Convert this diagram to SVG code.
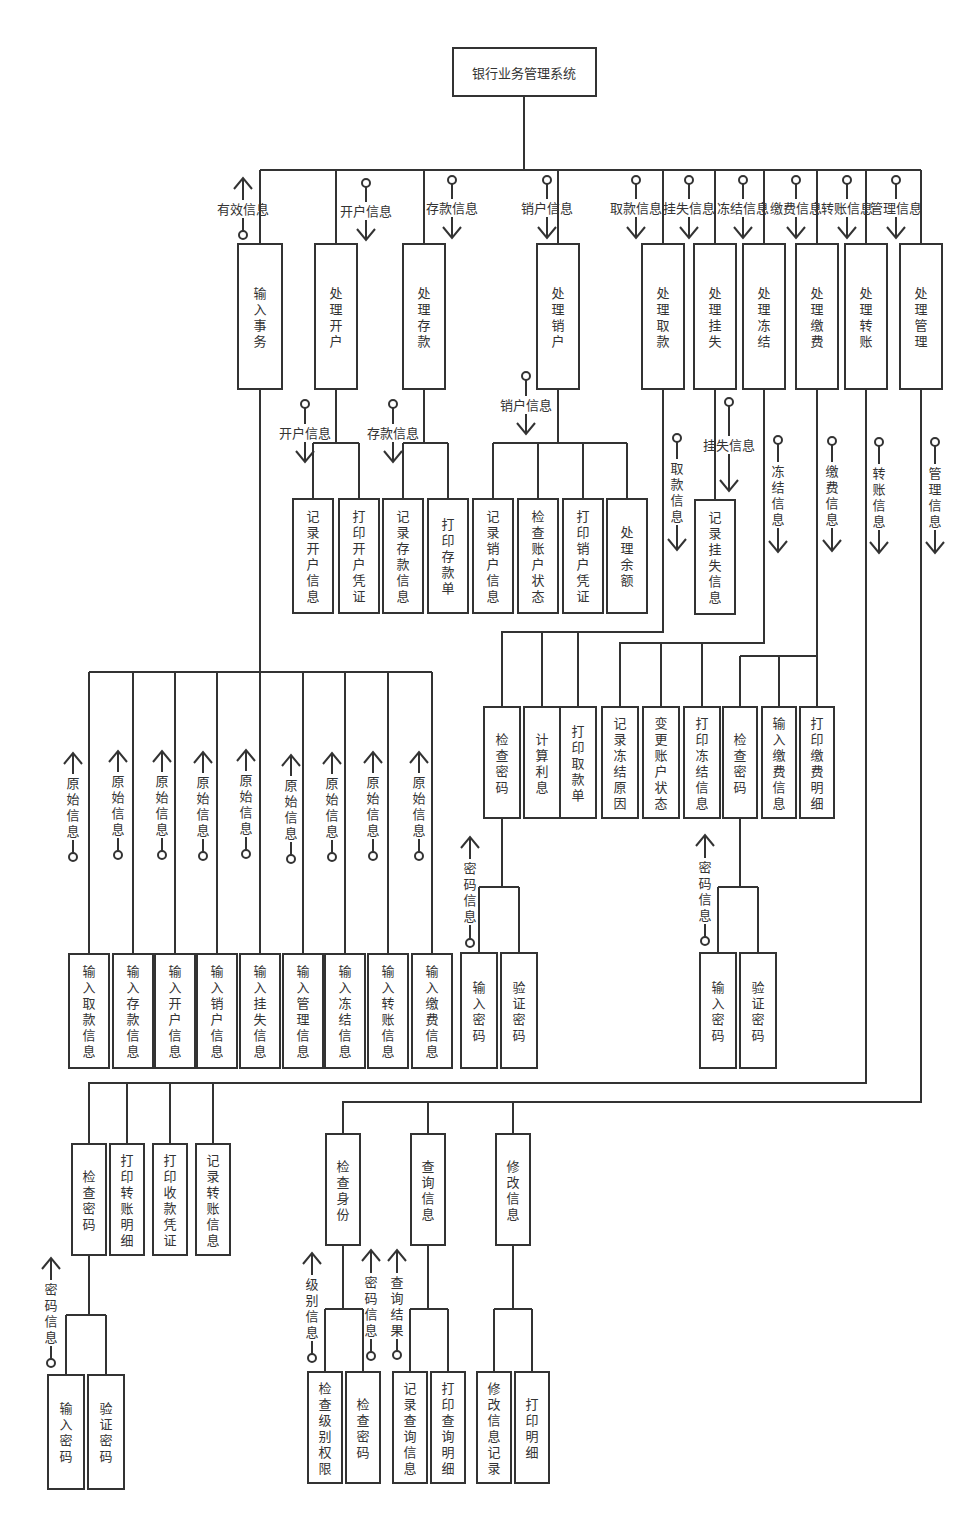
<svg xmlns="http://www.w3.org/2000/svg" width="975" height="1521" viewBox="0 0 975 1521">
<style>
.ln{fill:none;stroke:#333;stroke-width:2}
.bx{fill:#fff;stroke:#333;stroke-width:2}
text{font-family:"Noto Sans CJK SC","Noto Sans",sans-serif;font-size:13px;fill:#333;text-anchor:middle}
.a{marker-end:url(#arr)}
.d{marker-start:url(#dot)}
</style>
<defs>
<marker id="arr" markerUnits="userSpaceOnUse" markerWidth="30" markerHeight="30" viewBox="-15 -15 30 30" refX="0" refY="0" orient="auto" overflow="visible"><path d="M-11,-9 L0,0 L-11,9" fill="none" stroke="#333" stroke-width="2"/></marker>
<marker id="dot" markerUnits="userSpaceOnUse" markerWidth="12" markerHeight="12" viewBox="-6 -6 12 12" refX="0" refY="0" overflow="visible"><circle r="4" fill="#fff" stroke="#333" stroke-width="2"/></marker>
</defs>
<rect width="975" height="1521" fill="#fff"/>
<g id="connectors" class="ln">
<path d="M524,96V170M260,170H921M260,170V244M336,170V244M424,170V244M558,170V244M663,170V244M715,170V244M764,170V244M817,170V244M866,170V244M921,170V244"/>
<path d="M260,389V954M89,672H432M89,672V954M133,672V954M175,672V954M217,672V954M303,672V954M345,672V954M388,672V954M432,672V954"/>
<path d="M336,389V443M313,443H359M313,443V499M359,443V499"/>
<path d="M424,389V443M403,443H448M403,443V499M448,443V499"/>
<path d="M558,389V443M493,443H627M493,443V499M538,443V499M583,443V499M627,443V499"/>
<path d="M715,389V500"/>
<path d="M663,389V632H502V707M542,632V707M578,632V707"/>
<path d="M764,389V643H620V707M661,643V707M702,643V707"/>
<path d="M817,389V707M740,656H817M740,656V707M779,656V707"/>
<path d="M502,818V887M479,887H519M479,887V953M519,887V953"/>
<path d="M740,818V887M718,887H758M718,887V953M758,887V953"/>
<path d="M866,389V1083H89V1144M127,1083V1144M170,1083V1144M213,1083V1144"/>
<path d="M921,389V1102H343V1134M428,1102V1134M513,1102V1134"/>
<path d="M89,1255V1315M66,1315H106M66,1315V1375M106,1315V1375"/>
<path d="M343,1245V1309M325,1309H363M325,1309V1372M363,1309V1372"/>
<path d="M428,1245V1309M410,1309H448M410,1309V1372M448,1309V1372"/>
<path d="M513,1245V1309M494,1309H532M494,1309V1372M532,1309V1372"/>
</g>
<g id="labels">
<g><line class="ln a" x1="243" y1="200" x2="243" y2="178"/><line class="ln d" x1="243" y1="235" x2="243" y2="218"/><text x="243" y="214">有效信息</text></g>
<g><line class="ln d" x1="366" y1="183" x2="366" y2="202"/><line class="ln a" x1="366" y1="220" x2="366" y2="240"/><text x="366" y="216">开户信息</text></g>
<g><line class="ln d" x1="452" y1="180" x2="452" y2="199"/><line class="ln a" x1="452" y1="217" x2="452" y2="238"/><text x="452" y="213">存款信息</text></g>
<g><line class="ln d" x1="547" y1="180" x2="547" y2="199"/><line class="ln a" x1="547" y1="217" x2="547" y2="238"/><text x="547" y="213">销户信息</text></g>
<g><line class="ln d" x1="636" y1="180" x2="636" y2="199"/><line class="ln a" x1="636" y1="217" x2="636" y2="238"/><text x="636" y="213">取款信息</text></g>
<g><line class="ln d" x1="689" y1="180" x2="689" y2="199"/><line class="ln a" x1="689" y1="217" x2="689" y2="238"/><text x="689" y="213">挂失信息</text></g>
<g><line class="ln d" x1="743" y1="180" x2="743" y2="199"/><line class="ln a" x1="743" y1="217" x2="743" y2="238"/><text x="743" y="213">冻结信息</text></g>
<g><line class="ln d" x1="796" y1="180" x2="796" y2="199"/><line class="ln a" x1="796" y1="217" x2="796" y2="238"/><text x="796" y="213">缴费信息</text></g>
<g><line class="ln d" x1="847" y1="180" x2="847" y2="199"/><line class="ln a" x1="847" y1="217" x2="847" y2="238"/><text x="847" y="213">转账信息</text></g>
<g><line class="ln d" x1="896" y1="180" x2="896" y2="199"/><line class="ln a" x1="896" y1="217" x2="896" y2="238"/><text x="896" y="213">管理信息</text></g>
<g><line class="ln d" x1="305" y1="404" x2="305" y2="424"/><line class="ln a" x1="305" y1="442" x2="305" y2="462"/><text x="305" y="438">开户信息</text></g>
<g><line class="ln d" x1="393" y1="404" x2="393" y2="424"/><line class="ln a" x1="393" y1="442" x2="393" y2="462"/><text x="393" y="438">存款信息</text></g>
<g><line class="ln d" x1="526" y1="376" x2="526" y2="396"/><line class="ln a" x1="526" y1="414" x2="526" y2="434"/><text x="526" y="410">销户信息</text></g>
<g><line class="ln d" x1="729" y1="402" x2="729" y2="436"/><line class="ln a" x1="729" y1="454" x2="729" y2="491"/><text x="729" y="450">挂失信息</text></g>
<g><line class="ln d" x1="677" y1="438" x2="677" y2="459"/><line class="ln a" x1="677" y1="525" x2="677" y2="550"/><text x="677" y="473"><tspan x="677">取</tspan><tspan x="677" dy="16">款</tspan><tspan x="677" dy="16">信</tspan><tspan x="677" dy="16">息</tspan></text></g>
<g><line class="ln d" x1="778" y1="440" x2="778" y2="462"/><line class="ln a" x1="778" y1="528" x2="778" y2="552"/><text x="778" y="476"><tspan x="778">冻</tspan><tspan x="778" dy="16">结</tspan><tspan x="778" dy="16">信</tspan><tspan x="778" dy="16">息</tspan></text></g>
<g><line class="ln d" x1="832" y1="441" x2="832" y2="462"/><line class="ln a" x1="832" y1="528" x2="832" y2="551"/><text x="832" y="476"><tspan x="832">缴</tspan><tspan x="832" dy="16">费</tspan><tspan x="832" dy="16">信</tspan><tspan x="832" dy="16">息</tspan></text></g>
<g><line class="ln d" x1="879" y1="442" x2="879" y2="464"/><line class="ln a" x1="879" y1="530" x2="879" y2="553"/><text x="879" y="478"><tspan x="879">转</tspan><tspan x="879" dy="16">账</tspan><tspan x="879" dy="16">信</tspan><tspan x="879" dy="16">息</tspan></text></g>
<g><line class="ln d" x1="935" y1="442" x2="935" y2="464"/><line class="ln a" x1="935" y1="530" x2="935" y2="553"/><text x="935" y="478"><tspan x="935">管</tspan><tspan x="935" dy="16">理</tspan><tspan x="935" dy="16">信</tspan><tspan x="935" dy="16">息</tspan></text></g>
<g><line class="ln a" x1="73" y1="774" x2="73" y2="753"/><line class="ln d" x1="73" y1="857" x2="73" y2="840"/><text x="73" y="788"><tspan x="73">原</tspan><tspan x="73" dy="16">始</tspan><tspan x="73" dy="16">信</tspan><tspan x="73" dy="16">息</tspan></text></g>
<g><line class="ln a" x1="118" y1="772" x2="118" y2="751"/><line class="ln d" x1="118" y1="855" x2="118" y2="838"/><text x="118" y="786"><tspan x="118">原</tspan><tspan x="118" dy="16">始</tspan><tspan x="118" dy="16">信</tspan><tspan x="118" dy="16">息</tspan></text></g>
<g><line class="ln a" x1="162" y1="772" x2="162" y2="751"/><line class="ln d" x1="162" y1="855" x2="162" y2="838"/><text x="162" y="786"><tspan x="162">原</tspan><tspan x="162" dy="16">始</tspan><tspan x="162" dy="16">信</tspan><tspan x="162" dy="16">息</tspan></text></g>
<g><line class="ln a" x1="203" y1="773" x2="203" y2="752"/><line class="ln d" x1="203" y1="856" x2="203" y2="839"/><text x="203" y="787"><tspan x="203">原</tspan><tspan x="203" dy="16">始</tspan><tspan x="203" dy="16">信</tspan><tspan x="203" dy="16">息</tspan></text></g>
<g><line class="ln a" x1="246" y1="771" x2="246" y2="750"/><line class="ln d" x1="246" y1="854" x2="246" y2="837"/><text x="246" y="785"><tspan x="246">原</tspan><tspan x="246" dy="16">始</tspan><tspan x="246" dy="16">信</tspan><tspan x="246" dy="16">息</tspan></text></g>
<g><line class="ln a" x1="291" y1="776" x2="291" y2="755"/><line class="ln d" x1="291" y1="859" x2="291" y2="842"/><text x="291" y="790"><tspan x="291">原</tspan><tspan x="291" dy="16">始</tspan><tspan x="291" dy="16">信</tspan><tspan x="291" dy="16">息</tspan></text></g>
<g><line class="ln a" x1="332" y1="774" x2="332" y2="753"/><line class="ln d" x1="332" y1="857" x2="332" y2="840"/><text x="332" y="788"><tspan x="332">原</tspan><tspan x="332" dy="16">始</tspan><tspan x="332" dy="16">信</tspan><tspan x="332" dy="16">息</tspan></text></g>
<g><line class="ln a" x1="373" y1="773" x2="373" y2="752"/><line class="ln d" x1="373" y1="856" x2="373" y2="839"/><text x="373" y="787"><tspan x="373">原</tspan><tspan x="373" dy="16">始</tspan><tspan x="373" dy="16">信</tspan><tspan x="373" dy="16">息</tspan></text></g>
<g><line class="ln a" x1="419" y1="773" x2="419" y2="752"/><line class="ln d" x1="419" y1="856" x2="419" y2="839"/><text x="419" y="787"><tspan x="419">原</tspan><tspan x="419" dy="16">始</tspan><tspan x="419" dy="16">信</tspan><tspan x="419" dy="16">息</tspan></text></g>
<g><line class="ln a" x1="470" y1="859" x2="470" y2="837"/><line class="ln d" x1="470" y1="943" x2="470" y2="925"/><text x="470" y="873"><tspan x="470">密</tspan><tspan x="470" dy="16">码</tspan><tspan x="470" dy="16">信</tspan><tspan x="470" dy="16">息</tspan></text></g>
<g><line class="ln a" x1="705" y1="858" x2="705" y2="835"/><line class="ln d" x1="705" y1="941" x2="705" y2="924"/><text x="705" y="872"><tspan x="705">密</tspan><tspan x="705" dy="16">码</tspan><tspan x="705" dy="16">信</tspan><tspan x="705" dy="16">息</tspan></text></g>
<g><line class="ln a" x1="51" y1="1280" x2="51" y2="1258"/><line class="ln d" x1="51" y1="1363" x2="51" y2="1346"/><text x="51" y="1294"><tspan x="51">密</tspan><tspan x="51" dy="16">码</tspan><tspan x="51" dy="16">信</tspan><tspan x="51" dy="16">息</tspan></text></g>
<g><line class="ln a" x1="312" y1="1275" x2="312" y2="1253"/><line class="ln d" x1="312" y1="1358" x2="312" y2="1341"/><text x="312" y="1289"><tspan x="312">级</tspan><tspan x="312" dy="16">别</tspan><tspan x="312" dy="16">信</tspan><tspan x="312" dy="16">息</tspan></text></g>
<g><line class="ln a" x1="371" y1="1273" x2="371" y2="1250"/><line class="ln d" x1="371" y1="1356" x2="371" y2="1339"/><text x="371" y="1287"><tspan x="371">密</tspan><tspan x="371" dy="16">码</tspan><tspan x="371" dy="16">信</tspan><tspan x="371" dy="16">息</tspan></text></g>
<g><line class="ln a" x1="397" y1="1273" x2="397" y2="1250"/><line class="ln d" x1="397" y1="1355" x2="397" y2="1339"/><text x="397" y="1287"><tspan x="397">查</tspan><tspan x="397" dy="16">询</tspan><tspan x="397" dy="16">结</tspan><tspan x="397" dy="16">果</tspan></text></g>
</g>
<g id="root"><rect class="bx" x="453" y="48" width="143" height="48"/><text x="524" y="78">银行业务管理系统</text></g>
<g id="n-srsw"><rect class="bx" x="238" y="244" width="44" height="145"/><text y="297.5"><tspan x="260">输</tspan><tspan x="260" dy="16">入</tspan><tspan x="260" dy="16">事</tspan><tspan x="260" dy="16">务</tspan></text></g>
<g id="n-clkh"><rect class="bx" x="315" y="244" width="42" height="145"/><text y="297.5"><tspan x="336">处</tspan><tspan x="336" dy="16">理</tspan><tspan x="336" dy="16">开</tspan><tspan x="336" dy="16">户</tspan></text></g>
<g id="n-clck"><rect class="bx" x="403" y="244" width="42" height="145"/><text y="297.5"><tspan x="424">处</tspan><tspan x="424" dy="16">理</tspan><tspan x="424" dy="16">存</tspan><tspan x="424" dy="16">款</tspan></text></g>
<g id="n-clxh"><rect class="bx" x="537" y="244" width="42" height="145"/><text y="297.5"><tspan x="558">处</tspan><tspan x="558" dy="16">理</tspan><tspan x="558" dy="16">销</tspan><tspan x="558" dy="16">户</tspan></text></g>
<g id="n-clqk"><rect class="bx" x="642" y="244" width="42" height="145"/><text y="297.5"><tspan x="663">处</tspan><tspan x="663" dy="16">理</tspan><tspan x="663" dy="16">取</tspan><tspan x="663" dy="16">款</tspan></text></g>
<g id="n-clgs"><rect class="bx" x="694" y="244" width="42" height="145"/><text y="297.5"><tspan x="715">处</tspan><tspan x="715" dy="16">理</tspan><tspan x="715" dy="16">挂</tspan><tspan x="715" dy="16">失</tspan></text></g>
<g id="n-cldj"><rect class="bx" x="743" y="244" width="42" height="145"/><text y="297.5"><tspan x="764">处</tspan><tspan x="764" dy="16">理</tspan><tspan x="764" dy="16">冻</tspan><tspan x="764" dy="16">结</tspan></text></g>
<g id="n-cljf"><rect class="bx" x="796" y="244" width="42" height="145"/><text y="297.5"><tspan x="817">处</tspan><tspan x="817" dy="16">理</tspan><tspan x="817" dy="16">缴</tspan><tspan x="817" dy="16">费</tspan></text></g>
<g id="n-clzz"><rect class="bx" x="845" y="244" width="42" height="145"/><text y="297.5"><tspan x="866">处</tspan><tspan x="866" dy="16">理</tspan><tspan x="866" dy="16">转</tspan><tspan x="866" dy="16">账</tspan></text></g>
<g id="n-clgl"><rect class="bx" x="900" y="244" width="42" height="145"/><text y="297.5"><tspan x="921">处</tspan><tspan x="921" dy="16">理</tspan><tspan x="921" dy="16">管</tspan><tspan x="921" dy="16">理</tspan></text></g>
<g id="n-jlkhxx"><rect class="bx" x="293" y="499" width="40" height="114"/><text y="521"><tspan x="313">记</tspan><tspan x="313" dy="16">录</tspan><tspan x="313" dy="16">开</tspan><tspan x="313" dy="16">户</tspan><tspan x="313" dy="16">信</tspan><tspan x="313" dy="16">息</tspan></text></g>
<g id="n-dykhpz"><rect class="bx" x="339" y="499" width="40" height="114"/><text y="521"><tspan x="359">打</tspan><tspan x="359" dy="16">印</tspan><tspan x="359" dy="16">开</tspan><tspan x="359" dy="16">户</tspan><tspan x="359" dy="16">凭</tspan><tspan x="359" dy="16">证</tspan></text></g>
<g id="n-jlckxx"><rect class="bx" x="383" y="499" width="40" height="114"/><text y="521"><tspan x="403">记</tspan><tspan x="403" dy="16">录</tspan><tspan x="403" dy="16">存</tspan><tspan x="403" dy="16">款</tspan><tspan x="403" dy="16">信</tspan><tspan x="403" dy="16">息</tspan></text></g>
<g id="n-dyckd"><rect class="bx" x="428" y="499" width="40" height="114"/><text y="529"><tspan x="448">打</tspan><tspan x="448" dy="16">印</tspan><tspan x="448" dy="16">存</tspan><tspan x="448" dy="16">款</tspan><tspan x="448" dy="16">单</tspan></text></g>
<g id="n-jlxhxx"><rect class="bx" x="473" y="499" width="40" height="114"/><text y="521"><tspan x="493">记</tspan><tspan x="493" dy="16">录</tspan><tspan x="493" dy="16">销</tspan><tspan x="493" dy="16">户</tspan><tspan x="493" dy="16">信</tspan><tspan x="493" dy="16">息</tspan></text></g>
<g id="n-jczhzt"><rect class="bx" x="518" y="499" width="40" height="114"/><text y="521"><tspan x="538">检</tspan><tspan x="538" dy="16">查</tspan><tspan x="538" dy="16">账</tspan><tspan x="538" dy="16">户</tspan><tspan x="538" dy="16">状</tspan><tspan x="538" dy="16">态</tspan></text></g>
<g id="n-dyxhpz"><rect class="bx" x="563" y="499" width="40" height="114"/><text y="521"><tspan x="583">打</tspan><tspan x="583" dy="16">印</tspan><tspan x="583" dy="16">销</tspan><tspan x="583" dy="16">户</tspan><tspan x="583" dy="16">凭</tspan><tspan x="583" dy="16">证</tspan></text></g>
<g id="n-clye"><rect class="bx" x="607" y="499" width="40" height="114"/><text y="537"><tspan x="627">处</tspan><tspan x="627" dy="16">理</tspan><tspan x="627" dy="16">余</tspan><tspan x="627" dy="16">额</tspan></text></g>
<g id="n-jlgsxx"><rect class="bx" x="695" y="500" width="40" height="114"/><text y="522"><tspan x="715">记</tspan><tspan x="715" dy="16">录</tspan><tspan x="715" dy="16">挂</tspan><tspan x="715" dy="16">失</tspan><tspan x="715" dy="16">信</tspan><tspan x="715" dy="16">息</tspan></text></g>
<g id="n-jcmm1"><rect class="bx" x="484" y="707" width="36" height="111"/><text y="743.5"><tspan x="502">检</tspan><tspan x="502" dy="16">查</tspan><tspan x="502" dy="16">密</tspan><tspan x="502" dy="16">码</tspan></text></g>
<g id="n-jslx"><rect class="bx" x="524" y="707" width="36" height="111"/><text y="743.5"><tspan x="542">计</tspan><tspan x="542" dy="16">算</tspan><tspan x="542" dy="16">利</tspan><tspan x="542" dy="16">息</tspan></text></g>
<g id="n-dyqkd"><rect class="bx" x="560" y="707" width="36" height="111"/><text y="735.5"><tspan x="578">打</tspan><tspan x="578" dy="16">印</tspan><tspan x="578" dy="16">取</tspan><tspan x="578" dy="16">款</tspan><tspan x="578" dy="16">单</tspan></text></g>
<g id="n-jldjyy"><rect class="bx" x="602" y="707" width="36" height="111"/><text y="727.5"><tspan x="620">记</tspan><tspan x="620" dy="16">录</tspan><tspan x="620" dy="16">冻</tspan><tspan x="620" dy="16">结</tspan><tspan x="620" dy="16">原</tspan><tspan x="620" dy="16">因</tspan></text></g>
<g id="n-bgzhzt"><rect class="bx" x="643" y="707" width="36" height="111"/><text y="727.5"><tspan x="661">变</tspan><tspan x="661" dy="16">更</tspan><tspan x="661" dy="16">账</tspan><tspan x="661" dy="16">户</tspan><tspan x="661" dy="16">状</tspan><tspan x="661" dy="16">态</tspan></text></g>
<g id="n-dydjxx"><rect class="bx" x="684" y="707" width="36" height="111"/><text y="727.5"><tspan x="702">打</tspan><tspan x="702" dy="16">印</tspan><tspan x="702" dy="16">冻</tspan><tspan x="702" dy="16">结</tspan><tspan x="702" dy="16">信</tspan><tspan x="702" dy="16">息</tspan></text></g>
<g id="n-jcmm2"><rect class="bx" x="723" y="707" width="34" height="111"/><text y="743.5"><tspan x="740">检</tspan><tspan x="740" dy="16">查</tspan><tspan x="740" dy="16">密</tspan><tspan x="740" dy="16">码</tspan></text></g>
<g id="n-srjfxx"><rect class="bx" x="762" y="707" width="34" height="111"/><text y="727.5"><tspan x="779">输</tspan><tspan x="779" dy="16">入</tspan><tspan x="779" dy="16">缴</tspan><tspan x="779" dy="16">费</tspan><tspan x="779" dy="16">信</tspan><tspan x="779" dy="16">息</tspan></text></g>
<g id="n-dyjfmx"><rect class="bx" x="800" y="707" width="34" height="111"/><text y="727.5"><tspan x="817">打</tspan><tspan x="817" dy="16">印</tspan><tspan x="817" dy="16">缴</tspan><tspan x="817" dy="16">费</tspan><tspan x="817" dy="16">明</tspan><tspan x="817" dy="16">细</tspan></text></g>
<g id="n-srmm1"><rect class="bx" x="461" y="953" width="36" height="115"/><text y="991.5"><tspan x="479">输</tspan><tspan x="479" dy="16">入</tspan><tspan x="479" dy="16">密</tspan><tspan x="479" dy="16">码</tspan></text></g>
<g id="n-yzmm1"><rect class="bx" x="501" y="953" width="36" height="115"/><text y="991.5"><tspan x="519">验</tspan><tspan x="519" dy="16">证</tspan><tspan x="519" dy="16">密</tspan><tspan x="519" dy="16">码</tspan></text></g>
<g id="n-srmm2"><rect class="bx" x="700" y="953" width="36" height="115"/><text y="991.5"><tspan x="718">输</tspan><tspan x="718" dy="16">入</tspan><tspan x="718" dy="16">密</tspan><tspan x="718" dy="16">码</tspan></text></g>
<g id="n-yzmm2"><rect class="bx" x="740" y="953" width="36" height="115"/><text y="991.5"><tspan x="758">验</tspan><tspan x="758" dy="16">证</tspan><tspan x="758" dy="16">密</tspan><tspan x="758" dy="16">码</tspan></text></g>
<g id="n-srqkxx"><rect class="bx" x="69" y="954" width="40" height="114"/><text y="976"><tspan x="89">输</tspan><tspan x="89" dy="16">入</tspan><tspan x="89" dy="16">取</tspan><tspan x="89" dy="16">款</tspan><tspan x="89" dy="16">信</tspan><tspan x="89" dy="16">息</tspan></text></g>
<g id="n-srckxx"><rect class="bx" x="113" y="954" width="40" height="114"/><text y="976"><tspan x="133">输</tspan><tspan x="133" dy="16">入</tspan><tspan x="133" dy="16">存</tspan><tspan x="133" dy="16">款</tspan><tspan x="133" dy="16">信</tspan><tspan x="133" dy="16">息</tspan></text></g>
<g id="n-srkhxx"><rect class="bx" x="155" y="954" width="40" height="114"/><text y="976"><tspan x="175">输</tspan><tspan x="175" dy="16">入</tspan><tspan x="175" dy="16">开</tspan><tspan x="175" dy="16">户</tspan><tspan x="175" dy="16">信</tspan><tspan x="175" dy="16">息</tspan></text></g>
<g id="n-srxhxx"><rect class="bx" x="197" y="954" width="40" height="114"/><text y="976"><tspan x="217">输</tspan><tspan x="217" dy="16">入</tspan><tspan x="217" dy="16">销</tspan><tspan x="217" dy="16">户</tspan><tspan x="217" dy="16">信</tspan><tspan x="217" dy="16">息</tspan></text></g>
<g id="n-srgsxx"><rect class="bx" x="240" y="954" width="40" height="114"/><text y="976"><tspan x="260">输</tspan><tspan x="260" dy="16">入</tspan><tspan x="260" dy="16">挂</tspan><tspan x="260" dy="16">失</tspan><tspan x="260" dy="16">信</tspan><tspan x="260" dy="16">息</tspan></text></g>
<g id="n-srglxx"><rect class="bx" x="283" y="954" width="40" height="114"/><text y="976"><tspan x="303">输</tspan><tspan x="303" dy="16">入</tspan><tspan x="303" dy="16">管</tspan><tspan x="303" dy="16">理</tspan><tspan x="303" dy="16">信</tspan><tspan x="303" dy="16">息</tspan></text></g>
<g id="n-srdjxx"><rect class="bx" x="325" y="954" width="40" height="114"/><text y="976"><tspan x="345">输</tspan><tspan x="345" dy="16">入</tspan><tspan x="345" dy="16">冻</tspan><tspan x="345" dy="16">结</tspan><tspan x="345" dy="16">信</tspan><tspan x="345" dy="16">息</tspan></text></g>
<g id="n-srzzxx"><rect class="bx" x="368" y="954" width="40" height="114"/><text y="976"><tspan x="388">输</tspan><tspan x="388" dy="16">入</tspan><tspan x="388" dy="16">转</tspan><tspan x="388" dy="16">账</tspan><tspan x="388" dy="16">信</tspan><tspan x="388" dy="16">息</tspan></text></g>
<g id="n-srjfxx2"><rect class="bx" x="412" y="954" width="40" height="114"/><text y="976"><tspan x="432">输</tspan><tspan x="432" dy="16">入</tspan><tspan x="432" dy="16">缴</tspan><tspan x="432" dy="16">费</tspan><tspan x="432" dy="16">信</tspan><tspan x="432" dy="16">息</tspan></text></g>
<g id="n-jcmm3"><rect class="bx" x="72" y="1144" width="34" height="111"/><text y="1180.5"><tspan x="89">检</tspan><tspan x="89" dy="16">查</tspan><tspan x="89" dy="16">密</tspan><tspan x="89" dy="16">码</tspan></text></g>
<g id="n-dyzzmx"><rect class="bx" x="110" y="1144" width="34" height="111"/><text y="1164.5"><tspan x="127">打</tspan><tspan x="127" dy="16">印</tspan><tspan x="127" dy="16">转</tspan><tspan x="127" dy="16">账</tspan><tspan x="127" dy="16">明</tspan><tspan x="127" dy="16">细</tspan></text></g>
<g id="n-dyskpz"><rect class="bx" x="153" y="1144" width="34" height="111"/><text y="1164.5"><tspan x="170">打</tspan><tspan x="170" dy="16">印</tspan><tspan x="170" dy="16">收</tspan><tspan x="170" dy="16">款</tspan><tspan x="170" dy="16">凭</tspan><tspan x="170" dy="16">证</tspan></text></g>
<g id="n-jlzzxx"><rect class="bx" x="196" y="1144" width="34" height="111"/><text y="1164.5"><tspan x="213">记</tspan><tspan x="213" dy="16">录</tspan><tspan x="213" dy="16">转</tspan><tspan x="213" dy="16">账</tspan><tspan x="213" dy="16">信</tspan><tspan x="213" dy="16">息</tspan></text></g>
<g id="n-jcsf"><rect class="bx" x="326" y="1134" width="34" height="111"/><text y="1170.5"><tspan x="343">检</tspan><tspan x="343" dy="16">查</tspan><tspan x="343" dy="16">身</tspan><tspan x="343" dy="16">份</tspan></text></g>
<g id="n-cxxx"><rect class="bx" x="411" y="1134" width="34" height="111"/><text y="1170.5"><tspan x="428">查</tspan><tspan x="428" dy="16">询</tspan><tspan x="428" dy="16">信</tspan><tspan x="428" dy="16">息</tspan></text></g>
<g id="n-xgxx"><rect class="bx" x="496" y="1134" width="34" height="111"/><text y="1170.5"><tspan x="513">修</tspan><tspan x="513" dy="16">改</tspan><tspan x="513" dy="16">信</tspan><tspan x="513" dy="16">息</tspan></text></g>
<g id="n-srmm3"><rect class="bx" x="48" y="1375" width="36" height="114"/><text y="1413"><tspan x="66">输</tspan><tspan x="66" dy="16">入</tspan><tspan x="66" dy="16">密</tspan><tspan x="66" dy="16">码</tspan></text></g>
<g id="n-yzmm3"><rect class="bx" x="88" y="1375" width="36" height="114"/><text y="1413"><tspan x="106">验</tspan><tspan x="106" dy="16">证</tspan><tspan x="106" dy="16">密</tspan><tspan x="106" dy="16">码</tspan></text></g>
<g id="n-jcjbqx"><rect class="bx" x="308" y="1372" width="34" height="111"/><text y="1392.5"><tspan x="325">检</tspan><tspan x="325" dy="16">查</tspan><tspan x="325" dy="16">级</tspan><tspan x="325" dy="16">别</tspan><tspan x="325" dy="16">权</tspan><tspan x="325" dy="16">限</tspan></text></g>
<g id="n-jcmm4"><rect class="bx" x="346" y="1372" width="34" height="111"/><text y="1408.5"><tspan x="363">检</tspan><tspan x="363" dy="16">查</tspan><tspan x="363" dy="16">密</tspan><tspan x="363" dy="16">码</tspan></text></g>
<g id="n-jlcxxx"><rect class="bx" x="393" y="1372" width="34" height="111"/><text y="1392.5"><tspan x="410">记</tspan><tspan x="410" dy="16">录</tspan><tspan x="410" dy="16">查</tspan><tspan x="410" dy="16">询</tspan><tspan x="410" dy="16">信</tspan><tspan x="410" dy="16">息</tspan></text></g>
<g id="n-dycxmx"><rect class="bx" x="431" y="1372" width="34" height="111"/><text y="1392.5"><tspan x="448">打</tspan><tspan x="448" dy="16">印</tspan><tspan x="448" dy="16">查</tspan><tspan x="448" dy="16">询</tspan><tspan x="448" dy="16">明</tspan><tspan x="448" dy="16">细</tspan></text></g>
<g id="n-xgxxjl"><rect class="bx" x="477" y="1372" width="34" height="111"/><text y="1392.5"><tspan x="494">修</tspan><tspan x="494" dy="16">改</tspan><tspan x="494" dy="16">信</tspan><tspan x="494" dy="16">息</tspan><tspan x="494" dy="16">记</tspan><tspan x="494" dy="16">录</tspan></text></g>
<g id="n-dymx"><rect class="bx" x="515" y="1372" width="34" height="111"/><text y="1408.5"><tspan x="532">打</tspan><tspan x="532" dy="16">印</tspan><tspan x="532" dy="16">明</tspan><tspan x="532" dy="16">细</tspan></text></g>
</svg>
